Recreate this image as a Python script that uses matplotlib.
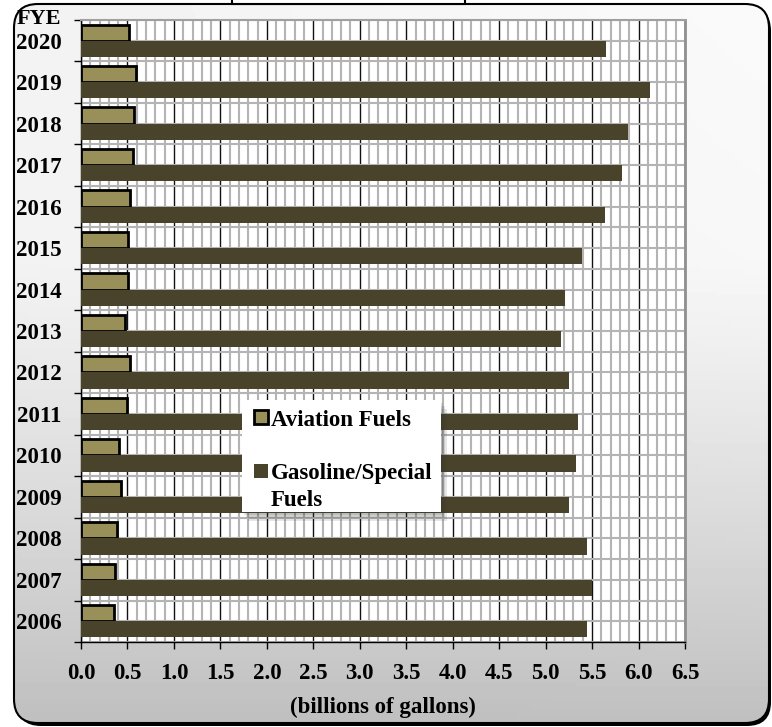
import numpy as np
import matplotlib.pyplot as plt
from matplotlib.patches import FancyBboxPatch, Rectangle

# fiscal years and fuel volumes (billions of gallons)
years = ['2006', '2007', '2008', '2009', '2010', '2011', '2012', '2013',
         '2014', '2015', '2016', '2017', '2018', '2019', '2020']
aviation = [0.35, 0.37, 0.39, 0.43, 0.41, 0.49, 0.53, 0.47,
            0.51, 0.51, 0.53, 0.56, 0.57, 0.59, 0.52]
gasoline = [5.44, 5.50, 5.44, 5.25, 5.33, 5.35, 5.25, 5.17,
            5.21, 5.39, 5.64, 5.82, 5.89, 6.12, 5.655]
xticks = np.arange(0, 6.51, 0.5)
avi_color = '#998f58'
gas_color = '#4a432b'

plt.rcParams['font.family'] = ['Liberation Serif', 'DejaVu Serif']
plt.rcParams['font.weight'] = 'bold'

W, H = 772, 727
fig = plt.figure(figsize=(W / 100, H / 100), dpi=100)
fig.patch.set_facecolor('white')

# rounded gradient frame behind everything (pixel coordinates)
bg = fig.add_axes([0, 0, 1, 1], zorder=-1)
bg.set_xlim(0, W)
bg.set_ylim(H, 0)
bg.axis('off')
bg.add_patch(FancyBboxPatch((17, 7), 754, 719, boxstyle='round,pad=0,rounding_size=24',
                            fc='black', ec='none'))
frame = FancyBboxPatch((14, 4), 755, 719, boxstyle='round,pad=0,rounding_size=24',
                       fc='none', ec='black', lw=1.5, zorder=3)
bg.add_patch(frame)
yy, xx = np.mgrid[0:1:200j, 0:1:200j]
shade = 0.95 - 0.20 * np.clip((yy - 0.35) / 0.65, 0, 1) ** 1.2 + 0.03 * xx * (1 - yy)
img = bg.imshow(shade, extent=(14, 769, 723, 4), cmap='gray', vmin=0, vmax=1,
                aspect='auto', origin='upper', zorder=1)
img.set_clip_path(frame)
bg.add_patch(Rectangle((232, -10), 233, 14, fc='white', ec='black', lw=1.5, zorder=4))

# main chart
ax = fig.add_axes([81 / W, 1 - 642 / H, 604 / W, 622 / H])
ax.set_facecolor('white')
y = np.arange(len(years))
ax.barh(y + 0.195, aviation, height=0.39, color=avi_color, edgecolor='black',
        linewidth=2, zorder=3)
ax.barh(y - 0.195, gasoline, height=0.39, color=gas_color, zorder=3)

ax.set_xlim(0, 6.5)
ax.set_ylim(-0.5, len(years) - 0.5)
ax.set_xticks(xticks)
ax.set_xticklabels([f'{v:.1f}' for v in xticks])
ax.set_xticks(np.arange(0, 6.51, 0.1), minor=True)
ax.set_yticks(np.arange(-0.5, len(years), 1))
ax.set_yticklabels([])
ax.set_yticks(y, minor=True)
ax.set_yticklabels(years, minor=True)

ax.set_axisbelow(True)
ax.grid(axis='x', which='minor', color='#b4b4b4', lw=1.5)
ax.grid(axis='x', which='major', color='#111111', lw=1)
ax.grid(axis='y', which='both', color='#b4b4b4', lw=1.5)

ax.tick_params(axis='x', which='major', length=5, width=1, pad=10, labelsize=16.5)
ax.tick_params(axis='x', which='minor', length=0)
ax.tick_params(axis='y', which='major', length=5, width=1)
ax.tick_params(axis='y', which='minor', length=0, pad=14, labelsize=16.5)

for s in ['left', 'bottom']:
    ax.spines[s].set_color('black')
    ax.spines[s].set_linewidth(1)
ax.spines['top'].set_color('#a0a0a0')
ax.spines['top'].set_linewidth(1.5)
ax.spines['right'].set_color('#909090')
ax.spines['right'].set_linewidth(2)

fig.text(39 / W, 1 - 19 / H, 'FYE', ha='center', va='center', fontsize=16, weight='bold')
fig.text(383 / W, 1 - 707 / H, '(billions of gallons)', ha='center', va='center',
         fontsize=16.5, weight='bold')

# legend box drawn on an overlay in pixel coordinates
fg = fig.add_axes([0, 0, 1, 1], zorder=5)
fg.set_xlim(0, W)
fg.set_ylim(H, 0)
fg.axis('off')
for k in range(3):
    fg.add_patch(Rectangle((244 + 2 * k, 403 + 3 * k), 199, 112, fc='#333333',
                           ec='none', alpha=0.12))
fg.add_patch(Rectangle((242, 400), 199, 112, fc='white', ec='none'))
fg.add_patch(Rectangle((254, 410), 14, 14, fc=avi_color, ec='black', lw=2))
fg.add_patch(Rectangle((254, 464), 14, 14, fc=gas_color, ec='none'))
fg.text(271, 420, 'Aviation Fuels', ha='left', va='center', fontsize=16.5, weight='bold')
fg.text(271, 474, 'Gasoline/Special', ha='left', va='center', fontsize=16.5, weight='bold')
fg.text(271, 501, 'Fuels', ha='left', va='center', fontsize=16.5, weight='bold')

fig.savefig('out.png', dpi=100)
